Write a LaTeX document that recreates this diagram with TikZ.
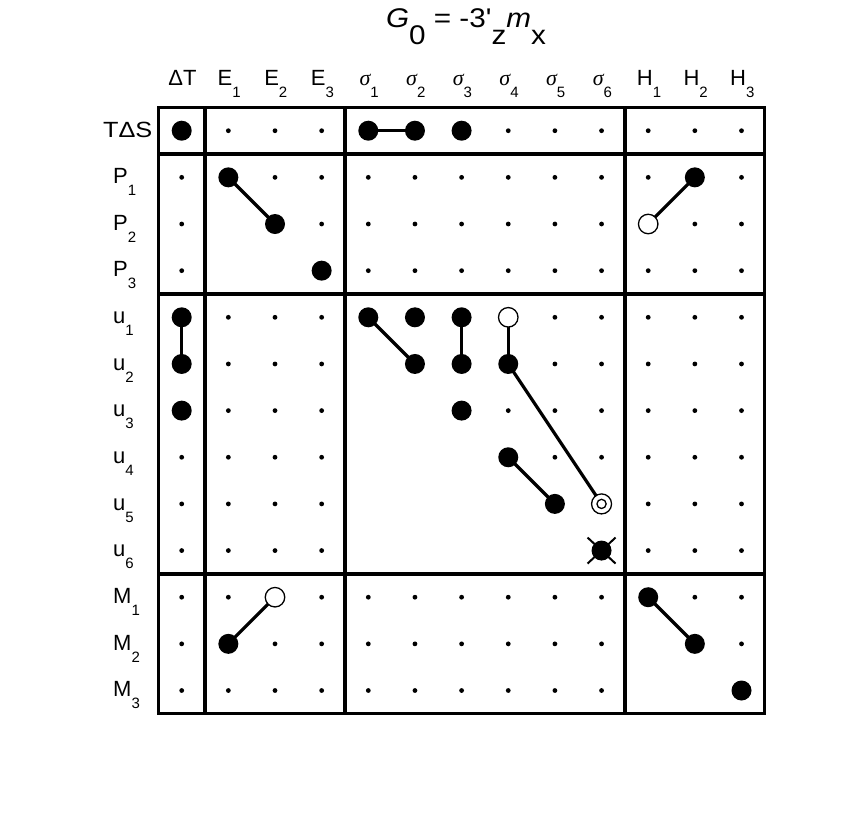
\documentclass[tikz,border=0pt]{standalone}
\usepackage{fontspec}
\setmainfont{Liberation Sans}
\newfontfamily\titlefont{Liberation Sans}
\newfontfamily\symfont{Liberation Serif}
\usetikzlibrary{backgrounds}
\newcommand\sub[1]{\raisebox{-12pt}{\fontsize{15}{15}\selectfont #1}}
\newcommand\tsub[1]{\raisebox{-17pt}{#1}}
\newcommand\sig{{\symfont\itshape σ}}
\tikzset{
  mkB/.style={circle,fill=black,inner sep=0pt,minimum size=20pt},
  mks/.style={circle,fill=black,inner sep=0pt,minimum size=4.8pt},
  mkO/.style={circle,draw=black,fill=white,line width=1.3pt,inner sep=0pt,minimum size=19.5pt},
  mkD/.style={circle,draw=black,fill=white,line width=1.3pt,inner sep=0pt,minimum size=20pt,
     path picture={\draw[line width=1.3pt] (path picture bounding box.center) circle (4.6pt);}},
  mkX/.style={circle,fill=black,inner sep=0pt,minimum size=20pt},
  mkN/.style={coordinate},
  frame/.style={line width=3.3pt},
  link/.style={line width=3.2pt},
  xline/.style={line width=2pt},
  lab/.style={font=\fontsize{22}{24}\selectfont,inner sep=0pt},
}
\begin{document}
\begin{tikzpicture}[x=1pt,y=-1pt]
\useasboundingbox (0,0) rectangle (856,812);
% title
\node[anchor=base,inner sep=0pt,xscale=1.1,font=\titlefont\fontsize{27}{30}\selectfont] (title) at (466,27)
  {\textit{G}\tsub{0} = -3'\tsub{z}\textit{m}\tsub{x}};
% special marks
\foreach \ri/\ci/\ty in {0/0/B,0/4/B,0/5/B,0/6/B,
  1/1/B,1/11/B,
  2/1/N,2/2/B,2/10/O,
  3/1/N,3/2/N,3/3/B,
  4/0/B,4/4/B,4/5/B,4/6/B,4/7/O,
  5/0/B,5/4/N,5/5/B,5/6/B,5/7/B,
  6/0/B,6/4/N,6/5/N,6/6/B,
  7/4/N,7/5/N,7/6/N,7/7/B,
  8/4/N,8/5/N,8/6/N,8/7/N,8/8/B,8/9/D,
  9/4/N,9/5/N,9/6/N,9/7/N,9/8/N,9/9/X,
  10/2/O,10/10/B,
  11/1/B,11/10/N,11/11/B,
  12/10/N,12/11/N,12/12/B}
  {\expandafter\xdef\csname mk-\ri-\ci\endcsname{\ty}}
% grid of marks
\foreach \ri in {0,...,12}{
  \foreach \ci in {0,...,12}{
    \pgfmathsetmacro\xx{181.7+46.65*\ci}
    \pgfmathsetmacro\yy{130.7+46.65*\ri}
    \ifcsname mk-\ri-\ci\endcsname
      \edef\styl{mk\csname mk-\ri-\ci\endcsname}%
    \else
      \def\styl{mks}%
    \fi
    \edef\tmp{\noexpand\node[\styl] (n-\ri-\ci) at (\xx,\yy) {};}%
    \tmp
  }
}
% cross on u6 sigma6
\draw[xline] ([shift={(-14,-13)}]n-9-9.center) -- ([shift={(14,13)}]n-9-9.center);
\draw[xline] ([shift={(-14,13)}]n-9-9.center) -- ([shift={(14,-13)}]n-9-9.center);
% connectors
\begin{scope}[on background layer]
\draw[link] (n-0-4.center) -- (n-0-5.center);
\draw[link] (n-4-0.center) -- (n-5-0.center);
\draw[link] (n-1-1.center) -- (n-2-2.center);
\draw[link] (n-1-11.center) -- (n-2-10.center);
\draw[link] (n-4-4.center) -- (n-5-5.center);
\draw[link] (n-4-6.center) -- (n-5-6.center);
\draw[link] (n-4-7.center) -- (n-5-7.center);
\draw[link] (n-5-7.center) -- (n-8-9.center);
\draw[link] (n-7-7.center) -- (n-8-8.center);
\draw[link] (n-11-1.center) -- (n-10-2.center);
\draw[link] (n-10-10.center) -- (n-11-11.center);
\end{scope}
% frame
\draw[frame] (158.4,107.4) rectangle (764.8,713.8);
\draw[frame] (205,107.4) -- (205,713.8);
\draw[frame] (345,107.4) -- (345,713.8);
\draw[frame] (624.9,107.4) -- (624.9,713.8);
\draw[frame] (158.4,154) -- (764.8,154);
\draw[frame] (158.4,294) -- (764.8,294);
\draw[frame] (158.4,573.9) -- (764.8,573.9);
% column headers
\foreach \ci/\txt in {0/{ΔT},1/{E\sub{1}},2/{E\sub{2}},3/{E\sub{3}},
  4/{\sig\sub{1}},5/{\sig\sub{2}},6/{\sig\sub{3}},7/{\sig\sub{4}},8/{\sig\sub{5}},9/{\sig\sub{6}},
  10/{H\sub{1}},11/{H\sub{2}},12/{H\sub{3}}}
  {\node[lab,anchor=base] (h\ci) at (182.5+46.65*\ci,85) {\txt};}
% row headers
\node[lab,anchor=base east,xscale=1.15] (r0) at (152.5,137) {TΔS};
\foreach \ri/\txt in {1/{P\sub{1}},2/{P\sub{2}},3/{P\sub{3}},
  4/{u\sub{1}},5/{u\sub{2}},6/{u\sub{3}},7/{u\sub{4}},8/{u\sub{5}},9/{u\sub{6}},
  10/{M\sub{1}},11/{M\sub{2}},12/{M\sub{3}}}
  {\node[lab,anchor=base west] (r\ri) at (113,137+46.65*\ri) {\txt};}
\end{tikzpicture}
\end{document}
